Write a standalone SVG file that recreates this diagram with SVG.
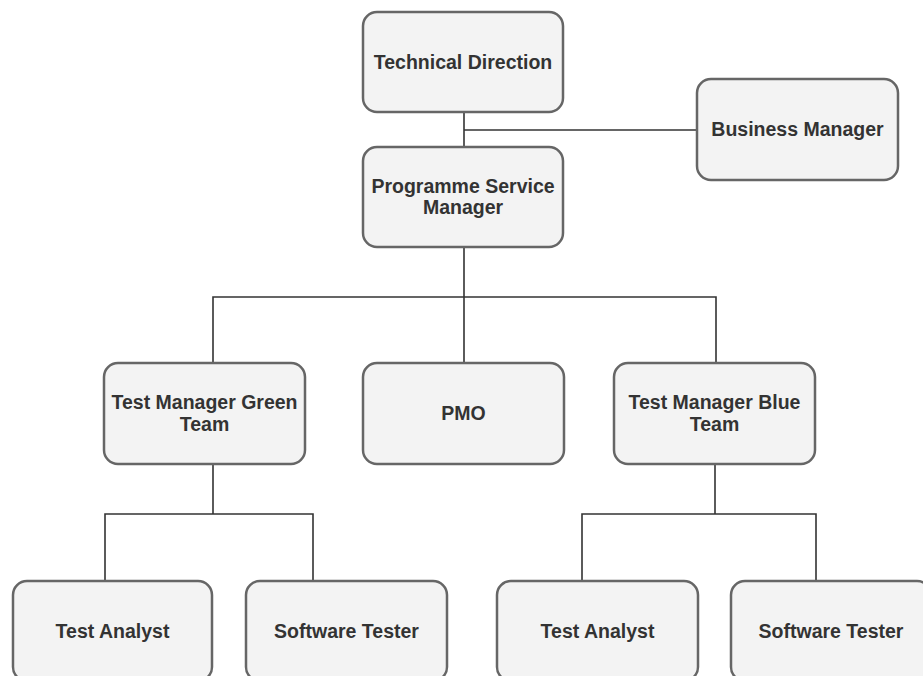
<svg xmlns="http://www.w3.org/2000/svg" width="923" height="676" viewBox="0 0 923 676">
<style>
.box{fill:#f3f3f3;stroke:#666;stroke-width:2.5}
.lbl{font-family:"Liberation Sans",Arial,sans-serif;font-weight:bold;font-size:19.5px;fill:#333;text-anchor:middle}
.conn{fill:none;stroke:#333;stroke-width:1.6}
</style>
<rect width="923" height="676" fill="#fff"/>
<g id="connectors">
<path class="conn" d="M464 112V147"/>
<path class="conn" d="M464 130H697"/>
<path class="conn" d="M464 247V363"/>
<path class="conn" d="M213 363V297H716V363"/>
<path class="conn" d="M213 464V514"/>
<path class="conn" d="M105 581V514H313V581"/>
<path class="conn" d="M715 464V514"/>
<path class="conn" d="M582 581V514H816V581"/>
</g>
<g id="technical-direction">
<rect class="box" x="363" y="12" width="200" height="100" rx="14"/>
<text class="lbl" x="463" y="69">Technical Direction</text>
</g>
<g id="business-manager">
<rect class="box" x="697" y="79" width="201" height="101" rx="14"/>
<text class="lbl" x="797.5" y="136">Business Manager</text>
</g>
<g id="programme-service-manager">
<rect class="box" x="363" y="147" width="200" height="100" rx="14"/>
<text class="lbl" x="463" y="193">Programme Service</text>
<text class="lbl" x="463" y="214">Manager</text>
</g>
<g id="test-manager-green">
<rect class="box" x="104" y="363" width="201" height="101" rx="14"/>
<text class="lbl" x="204.5" y="409">Test Manager Green</text>
<text class="lbl" x="204.5" y="431">Team</text>
</g>
<g id="pmo">
<rect class="box" x="363" y="363" width="201" height="101" rx="14"/>
<text class="lbl" x="463.5" y="420">PMO</text>
</g>
<g id="test-manager-blue">
<rect class="box" x="614" y="363" width="201" height="101" rx="14"/>
<text class="lbl" x="714.5" y="409">Test Manager Blue</text>
<text class="lbl" x="714.5" y="431">Team</text>
</g>
<g id="test-analyst-green">
<rect class="box" x="13" y="581" width="199" height="100" rx="14"/>
<text class="lbl" x="112.5" y="638">Test Analyst</text>
</g>
<g id="software-tester-green">
<rect class="box" x="246" y="581" width="201" height="100" rx="14"/>
<text class="lbl" x="346.5" y="638">Software Tester</text>
</g>
<g id="test-analyst-blue">
<rect class="box" x="497" y="581" width="201" height="100" rx="14"/>
<text class="lbl" x="597.5" y="638">Test Analyst</text>
</g>
<g id="software-tester-blue">
<rect class="box" x="731" y="581" width="200" height="100" rx="14"/>
<text class="lbl" x="831" y="638">Software Tester</text>
</g>
</svg>
